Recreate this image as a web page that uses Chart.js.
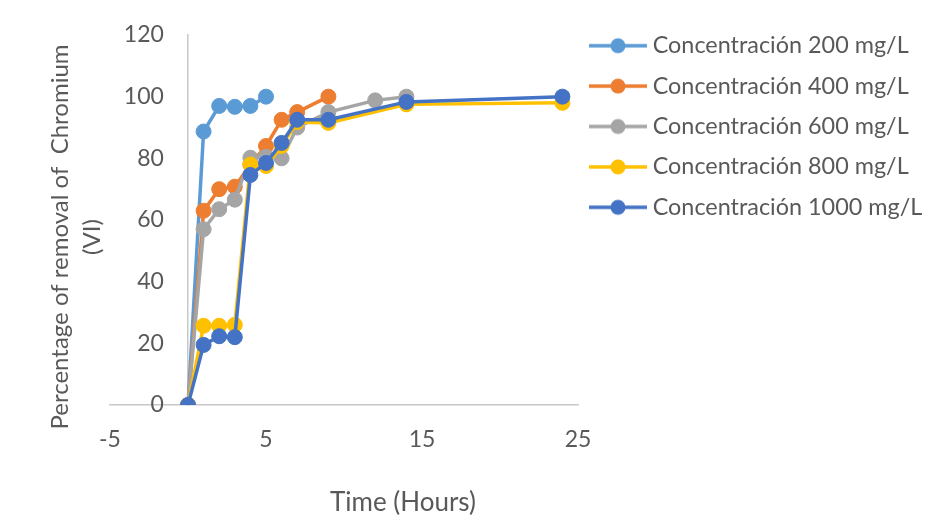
<!DOCTYPE html>
<html><head><meta charset="utf-8">
<script src="https://cdn.jsdelivr.net/npm/chart.js@4"></script>
<style>html,body{margin:0;padding:0;background:#fff}#wrap{width:933px;height:531px}</style>
</head><body><div id="wrap"><canvas id="c" width="933" height="531"></canvas></div>
<script>
// ---- data ----
const seriesLabels = ['Concentración 200 mg/L','Concentración 400 mg/L','Concentración 600 mg/L','Concentración 800 mg/L','Concentración 1000 mg/L'];
const times200 = [0,1,2,3,4,5];
const removal200 = [0,88.7,97,96.7,97,100];
const times400 = [0,1,2,3,4,5,6,7,9];
const removal400 = [0,63,70,70.8,78,84,92.5,95,100];
const times600 = [0,1,2,3,4,5,6,7,9,12,14];
const removal600 = [0,57,63.5,66.6,80.2,80.5,80,90,95,98.8,100];
const times800 = [0,1,2,3,4,5,6,7,9,14,24];
const removal800 = [0,25.7,25.7,26,78,77.5,84,91.8,91.5,97.5,98];
const times1000 = [0,1,2,3,4,5,6,7,9,14,24];
const removal1000 = [0,19.5,22.3,22,74.6,78.5,85,92.5,92.5,98.3,100];
const xTickValues = [-5,5,15,25];
const yTickValues = [0,20,40,60,80,100,120];
const xTitle = 'Time (Hours)';
const yTitleLines = ['Percentage of removal of  Chromium','(VI)'];

// ---- styles ----
const colors = ['#5B9BD5','#ED7D31','#A5A5A5','#FFC000','#4472C4'];
const textColor = '#595959';
const axisColor = '#C8C8C8';
const FONT = 'Lato';
const TICK_FS = 23;
const LEGEND_FS = 23.4;

const allTimes = [times200,times400,times600,times800,times1000];
const allValues = [removal200,removal400,removal600,removal800,removal1000];

function legendImage(color){
  const c = document.createElement('canvas');
  c.width = 58; c.height = 18;
  const g = c.getContext('2d');
  g.strokeStyle = color; g.lineWidth = 3.5;
  g.beginPath(); g.moveTo(0,9); g.lineTo(58,9); g.stroke();
  g.fillStyle = color; g.beginPath(); g.arc(29,9,7.5,0,Math.PI*2); g.fill();
  return c;
}
const legendImages = colors.map(legendImage);

const datasets = seriesLabels.map((lab,i)=>({
  label: lab,
  data: allTimes[i].map((t,j)=>({x:t, y:allValues[i][j]})),
  borderColor: colors[i],
  backgroundColor: colors[i],
  borderWidth: 3.5,
  pointRadius: 7.5,
  pointBorderWidth: 1,
  pointBackgroundColor: colors[i],
  pointBorderColor: colors[i],
  tension: 0,
  order: seriesLabels.length - i,
  xAxisID: 'x', yAxisID: 'y'
}));

const legendWidthPlugin = {
  id: 'legendWidth',
  beforeInit(chart){
    const lg = chart.legend;
    if (!lg) return;
    const orig = lg.fit;
    lg.fit = function(){ orig.call(this); this.width = 355; };
  }
};

const titlesPlugin = {
  id: 'axisTitles',
  afterDraw(chart){
    const ctx = chart.ctx;
    ctx.save();
    ctx.fillStyle = textColor;
    ctx.textAlign = 'center';
    ctx.textBaseline = 'middle';
    ctx.font = '26px ' + FONT;
    ctx.fillText(xTitle, 403, 503);
    ctx.font = '24px ' + FONT;
    ctx.translate(60, 237);
    ctx.rotate(-Math.PI/2);
    yTitleLines.forEach((l,k)=>ctx.fillText(l, 0, k*32));
    ctx.restore();
  }
};

new Chart(document.getElementById('c'), {
  type: 'line',
  data: { datasets },
  plugins: [legendWidthPlugin, titlesPlugin],
  options: {
    responsive: false,
    animation: false,
    devicePixelRatio: 1,
    layout: { padding: { left: 110, right: 0, top: 17, bottom: 66 } },
    plugins: {
      tooltip: { enabled: false },
      legend: {
        position: 'right', align: 'start',
        labels: {
          usePointStyle: true, pointStyleWidth: 46, padding: 17,
          color: textColor, font: { family: FONT, size: LEGEND_FS },
          sort: (a,b) => a.datasetIndex - b.datasetIndex,
          generateLabels(chart){
            const items = Chart.defaults.plugins.legend.labels.generateLabels(chart);
            items.forEach(it => { it.pointStyle = legendImages[it.datasetIndex]; });
            return items;
          }
        }
      }
    },
    scales: {
      x: {
        type: 'linear', position: 'bottom', min: -5, max: 25,
        afterBuildTicks: s => { s.ticks = xTickValues.map(v => ({value: v})); },
        afterFit: s => { s.height = 60; },
        grid: { display: false, drawTicks: false },
        border: { display: true, color: axisColor, width: 1.5 },
        ticks: { color: textColor, font: { family: FONT, size: TICK_FS }, padding: 21, maxRotation: 0 }
      },
      xTop: {
        type: 'linear', position: 'top', min: -5, max: 25,
        afterFit: s => { s.height = 18; },
        grid: { display: false, drawTicks: false },
        border: { display: false },
        ticks: { display: false }
      },
      y: {
        type: 'linear', position: { x: -1.55 }, min: 0, max: 120,
        afterBuildTicks: s => { s.ticks = yTickValues.map(v => ({value: v})); },
        grid: { display: false, drawTicks: false },
        border: { display: false },
        ticks: { color: textColor, font: { family: FONT, size: TICK_FS }, padding: 0 }
      },
      yLine: {
        type: 'linear', position: { x: 0 }, min: 0, max: 120,
        grid: { display: false, drawTicks: false },
        border: { display: true, color: axisColor, width: 1.5 },
        ticks: { display: false }
      }
    }
  }
});
</script>
</body></html>
